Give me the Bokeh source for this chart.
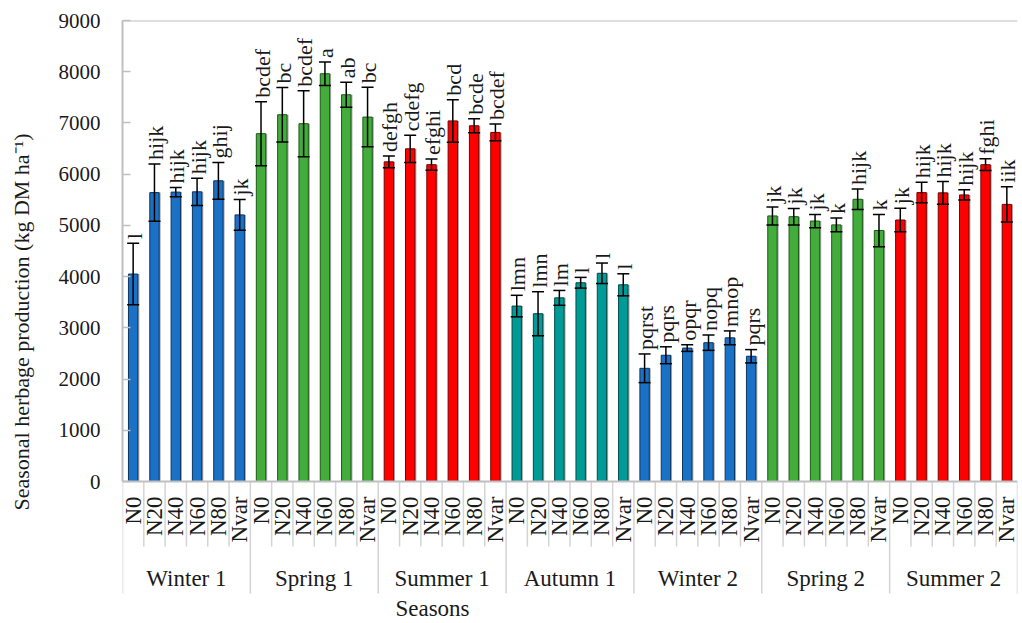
from math import pi
from bokeh.plotting import figure
from bokeh.models import (FactorRange, Range1d, ColumnDataSource, Whisker, TeeHead, Span,
                          SingleIntervalTicker, FixedTicker, LinearAxis)
from bokeh.transform import dodge
from bokeh.core.properties import value
from bokeh.embed import file_html
from bokeh.resources import INLINE

# ---------------- data ----------------
seasons = ["Winter 1", "Spring 1", "Summer 1", "Autumn 1", "Winter 2", "Spring 2", "Summer 2"]
treatments = ["N0", "N20", "N40", "N60", "N80", "Nvar"]

winter1 = [4050, 5640, 5650, 5655, 5870, 5205]
winter1_err = [600, 560, 90, 265, 360, 300]
spring1 = [6790, 7160, 6985, 7960, 7550, 7115]
spring1_err = [625, 530, 645, 230, 245, 580]
summer1 = [6240, 6495, 6185, 7040, 6945, 6815]
summer1_err = [115, 265, 110, 415, 135, 165]
autumn1 = [3425, 3275, 3585, 3880, 4065, 3840]
autumn1_err = [210, 430, 145, 105, 200, 215]
winter2 = [2210, 2465, 2605, 2710, 2805, 2445]
winter2_err = [280, 165, 65, 150, 135, 130]
spring2 = [5185, 5170, 5085, 5010, 5510, 4900]
spring2_err = [175, 160, 130, 135, 200, 315]
summer2 = [5105, 5640, 5635, 5595, 6185, 5410]
summer2_err = [230, 200, 220, 100, 115, 345]

winter1_lab = ["l", "hijk", "hijk", "hijk", "ghij", "jk"]
spring1_lab = ["bcdef", "bc", "bcdef", "a", "ab", "bc"]
summer1_lab = ["defgh", "cdefg", "efghi", "bcd", "bcde", "bcdef"]
autumn1_lab = ["lmn", "lmn", "lm", "l", "l", "l"]
winter2_lab = ["pqrst", "pqrs", "opqr", "nopq", "mnop", "pqrs"]
spring2_lab = ["jk", "jk", "jk", "k", "hijk", "k"]
summer2_lab = ["jk", "hijk", "hijk", "hijk", "fghi", "iik"]

season_values = [winter1, spring1, summer1, autumn1, winter2, spring2, summer2]
season_errors = [winter1_err, spring1_err, summer1_err, autumn1_err, winter2_err, spring2_err, summer2_err]
season_labels = [winter1_lab, spring1_lab, summer1_lab, autumn1_lab, winter2_lab, spring2_lab, summer2_lab]

fill_colors = {"Winter": "#1a71c6", "Spring": "#43ad3b", "Summer": "#ff0000", "Autumn": "#009a97"}
edge_colors = {"Winter": "#0b3763", "Spring": "#1d5a19", "Summer": "#7a0000", "Autumn": "#004a48"}

y_title = "Seasonal herbage production (kg DM ha\u207b\u00b9)"
x_title = "Seasons"

# ---------------- layout ----------------
FONT = "Liberation Serif"
W, H = 1022, 623
LEFT, TOP, RIGHT = 122, 20, 5
YMAX = 9000
PLOT_PX = 461                      # pixels from 9000 to 0
upp = YMAX / PLOT_PX               # data units per pixel
frame_h = H - TOP
frame_w = W - LEFT - RIGHT
y_bottom = YMAX - frame_h * upp


def below(px):
    return -px * upp


factors, tops, uppers, lowers, labs, fills, edges = [], [], [], [], [], [], []
for s, vals, errs, ls in zip(seasons, season_values, season_errors, season_labels):
    key = s.split()[0]
    for t, v, e, l in zip(treatments, vals, errs, ls):
        factors.append((s, t))
        tops.append(v)
        uppers.append(v + e)
        lowers.append(v - e)
        labs.append(l)
        fills.append(fill_colors[key])
        edges.append(edge_colors[key])

n = len(factors)
slot = frame_w / n

src = ColumnDataSource(dict(x=factors, top=tops, upper=uppers, lower=lowers,
                            lab=labs, fill=fills, edge=edges))

x_range = FactorRange(*factors, factor_padding=0, group_padding=0, range_padding=0)
p = figure(width=W, height=H, x_range=x_range, y_range=Range1d(y_bottom, YMAX),
           output_backend="svg", toolbar_location=None,
           x_axis_location=None, y_axis_location=None,
           min_border_left=LEFT, min_border_top=TOP, min_border_bottom=0,
           min_border_right=RIGHT)
p.grid.visible = False
p.outline_line_color = None
p.background_fill_color = "white"
p.border_fill_color = "white"

yaxis = LinearAxis(bounds=(0, YMAX), ticker=SingleIntervalTicker(interval=1000, num_minor_ticks=0),
                   axis_line_color="#bfbfbf", axis_line_width=2,
                   major_tick_in=8, major_tick_out=0, major_tick_line_color="#bfbfbf",
                   major_tick_line_width=1.5, minor_tick_line_color=None,
                   major_label_text_font=FONT, major_label_text_font_size="21px",
                   major_label_text_color="#1a1a1a", major_label_standoff=22)
p.add_layout(yaxis, "left")

# second (label-only) axis carrying the y title, centred on the value axis region
title_center = (481 - 229) * upp
title_axis = LinearAxis(bounds=(title_center - 10, title_center + 10), ticker=FixedTicker(ticks=[]),
                        axis_line_color=None, major_tick_line_color=None,
                        minor_tick_line_color=None, major_label_text_font_size="0px",
                        axis_label=y_title, axis_label_text_font=FONT,
                        axis_label_text_font_size="22px", axis_label_text_font_style="normal",
                        axis_label_text_color="#1a1a1a", axis_label_standoff=22)
p.add_layout(title_axis, "left")

# frame lines
p.add_layout(Span(location=YMAX, dimension="width", line_color="#bfbfbf", line_width=2))
p.add_layout(Span(location=0, dimension="width", line_color="#bfbfbf", line_width=2))

# category separators below the axis
sx = list(range(n + 1))
sy1 = [below(112) if i % len(treatments) == 0 else below(65) for i in sx]
p.segment(x0=sx, x1=sx, y0=[0] * len(sx), y1=sy1, line_color="#d4d4d4", line_width=1.5)

# bars (with small shadow)
p.vbar(x=dodge("x", 0.07, range=x_range), top="top", bottom=0, width=0.44, source=src,
       fill_color="#a6a6a6", line_color=None)
p.vbar(x="x", top="top", bottom=0, width=0.44, source=src,
       fill_color="fill", line_color="edge", line_width=1)

whisk = Whisker(source=src, base="x", upper="upper", lower="lower",
                line_color="black", line_width=1.5, level="annotation",
                upper_head=TeeHead(size=12, line_color="black", line_width=1.5),
                lower_head=TeeHead(size=12, line_color="black", line_width=1.5))
p.add_layout(whisk)

# letter labels above error bars
p.text(x="x", y="upper", text="lab", source=src, angle=pi / 2,
       text_align="left", text_baseline="middle", x_offset=1, y_offset=-4,
       text_font=value(FONT), text_font_size="22px", text_color="#1a1a1a")

# treatment labels
p.text(x=factors, y=[below(15)] * n, text=[f[1] for f in factors], angle=pi / 2,
       text_align="right", text_baseline="middle",
       text_font=value(FONT), text_font_size="23px", text_color="#1a1a1a")

# season labels
p.text(x=seasons, y=[below(97)] * len(seasons), text=seasons,
       text_align="center", text_baseline="alphabetic",
       text_font=value(FONT), text_font_size="23px", text_color="#1a1a1a")

# x axis title
p.text(x=[(432 - LEFT) / slot], y=[below(127)], text=[x_title],
       text_align="center", text_baseline="alphabetic",
       text_font=value(FONT), text_font_size="23px", text_color="#1a1a1a")

open("out.html", "w").write(file_html(p, INLINE))
